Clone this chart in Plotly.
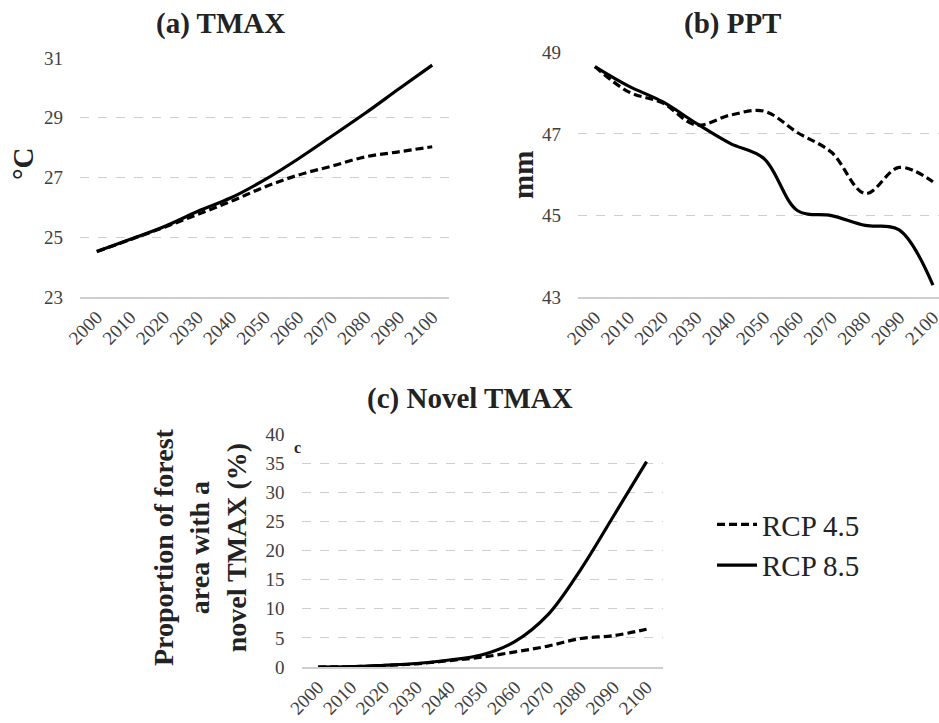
import plotly.graph_objects as go

years = ["2000", "2010", "2020", "2030", "2040", "2050", "2060", "2070", "2080", "2090", "2100"]

tmax_rcp45 = [24.52, 24.92, 25.33, 25.76, 26.20, 26.68, 27.08, 27.38, 27.69, 27.86, 28.03]
tmax_rcp85 = [24.52, 24.93, 25.35, 25.86, 26.32, 26.92, 27.62, 28.38, 29.15, 29.96, 30.76]

ppt_rcp45 = [48.65, 48.03, 47.76, 47.22, 47.46, 47.56, 47.03, 46.55, 45.54, 46.18, 45.83]
ppt_rcp85 = [48.65, 48.17, 47.79, 47.26, 46.77, 46.40, 45.12, 45.00, 44.76, 44.65, 43.30]

novel_rcp45 = [0.0, 0.05, 0.25, 0.55, 1.1, 1.7, 2.6, 3.6, 4.9, 5.4, 6.5]
novel_rcp85 = [0.0, 0.05, 0.3, 0.6, 1.2, 2.1, 4.4, 9.0, 16.8, 26.0, 35.3]

W, H = 939, 723
SERIF = "Liberation Serif"
GRID = "#cfcfcf"
TICK = "#404040"

def px(x):
    return x / W

def py(y):
    return 1 - y / H

fig = go.Figure()

def add_pair(r45, r85, xa, ya, legend):
    fig.add_trace(go.Scatter(x=years, y=r45, mode="lines", name="RCP 4.5",
                             line=dict(color="black", width=3.2, dash="8px,4px", shape="spline", smoothing=1),
                             xaxis=xa, yaxis=ya, showlegend=legend))
    fig.add_trace(go.Scatter(x=years, y=r85, mode="lines", name="RCP 8.5",
                             line=dict(color="black", width=3.2, shape="spline", smoothing=1),
                             xaxis=xa, yaxis=ya, showlegend=legend))

add_pair(tmax_rcp45, tmax_rcp85, "x", "y", False)
add_pair(ppt_rcp45, ppt_rcp85, "x2", "y2", False)
add_pair(novel_rcp45, novel_rcp85, "x3", "y3", True)

xcommon = dict(type="category", tickangle=-45, showgrid=False, showline=True, linecolor=GRID,
               linewidth=1.5, ticks="", tickfont=dict(family=SERIF, size=19, color=TICK),
               zeroline=False, automargin=False)
ycommon = dict(showgrid=True, gridcolor=GRID, griddash="dash", gridwidth=1, zeroline=False,
               showline=False, ticks="", tickfont=dict(family=SERIF, size=19, color=TICK),
               ticklabelstandoff=16, automargin=False)

fig.update_layout(
    template="none",
    width=W, height=H,
    margin=dict(l=0, r=0, t=0, b=0, autoexpand=False),
    paper_bgcolor="white", plot_bgcolor="white",
    xaxis=dict(domain=[px(80), px(449)], anchor="y", range=[-0.5, 10.5], **xcommon),
    yaxis=dict(domain=[py(297), py(58)], anchor="x", range=[23, 31], tickvals=[23, 25, 27, 29, 31], **ycommon),
    xaxis2=dict(domain=[px(578), 1.0], anchor="y2", range=[-0.5, 10.18], **xcommon),
    yaxis2=dict(domain=[py(297.3), py(52.3)], anchor="x2", range=[43, 49], tickvals=[43, 45, 47, 49], **ycommon),
    xaxis3=dict(domain=[px(301.6), px(663)], anchor="y3", range=[-0.5, 10.5], **xcommon),
    yaxis3=dict(domain=[py(667), py(434.3)], anchor="x3", range=[0, 40], tickvals=[0, 5, 10, 15, 20, 25, 30, 35, 40], **ycommon),
    legend=dict(x=px(712), y=py(545), xanchor="left", yanchor="middle",
                font=dict(family=SERIF, size=29, color="#222222"),
                bgcolor="rgba(0,0,0,0)", tracegroupgap=0, itemwidth=40),
    showlegend=True,
    hovermode=False,
)

def ann(text, x, y, size, angle=0, bold=True):
    fig.add_annotation(text=f"<b>{text}</b>" if bold else text, x=px(x), y=py(y),
                       xref="paper", yref="paper", showarrow=False, textangle=angle,
                       xanchor="center", yanchor="middle",
                       font=dict(family=SERIF, size=size, color="#222222"))

ann("(a) TMAX", 220, 24, 29)
ann("(b) PPT", 732, 24, 29)
ann("(c) Novel TMAX", 470, 398, 29)
ann("°C", 23, 164, 29, angle=-90)
ann("mm", 523, 175, 29, angle=-90)
ann("Proportion of forest<br>area with a<br>novel TMAX (%)", 200, 547, 28, angle=-90)
ann("c", 297, 447, 16)

# remove the page's default 8px body margin so the figure fills the window exactly
fig.write_html("out.html",
               config={"displayModeBar": False},
               post_script="document.body.style.margin='0';document.body.style.overflow='hidden';")
